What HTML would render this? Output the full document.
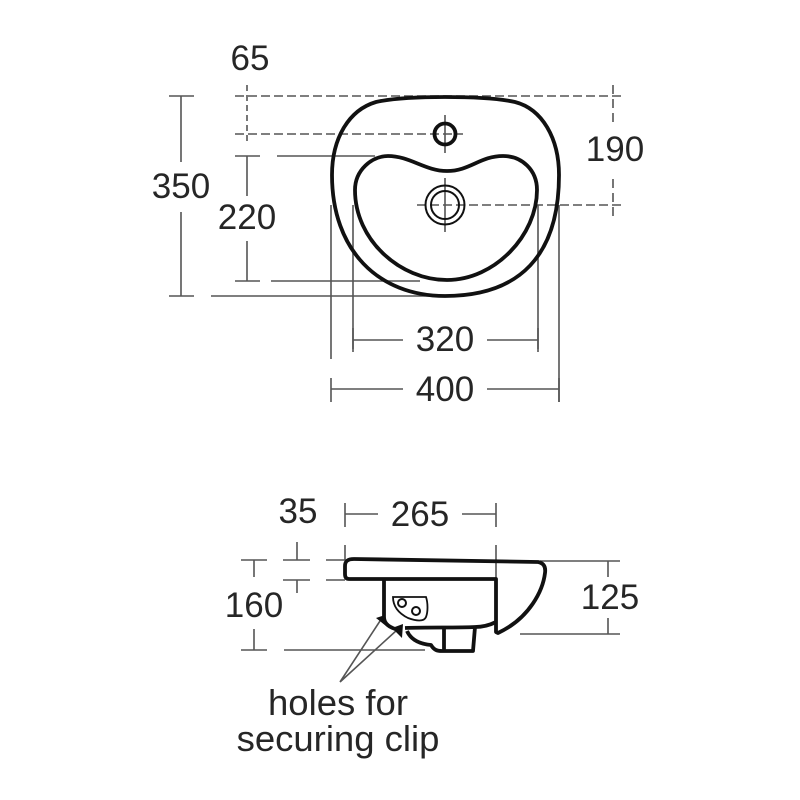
<!DOCTYPE html>
<html><head><meta charset="utf-8"><style>html,body{margin:0;padding:0;background:#fff}svg{display:block}text{font-family:"Liberation Sans",sans-serif;font-size:35px;fill:#262626;text-anchor:middle}</style></head><body>
<svg width="800" height="800" viewBox="0 0 800 800" xmlns="http://www.w3.org/2000/svg">
<g fill="none" stroke="#555" stroke-width="1.6">
<path d="M169 96H194M181 96V162M181 212V296M169 296H194M211 296H445"/>
<path d="M235 156H260M247 156V196M247 241V281M235 281H260M271 281H420M277 156H375"/>
<path d="M331 205V359M353 205V349M538 205V349M559 205V402"/>
<path d="M353 340H403M487 340H538M331 389H403M487 389H559M331 378V402M353 328V352M538 328V352M559 378V402"/>
<path d="M345 503V527M496 503V527M345 514H378M462 514H496M345 545V560M496 545V580"/>
<path d="M241 560H267M254 560V577M254 629V650M241 650H267M284 650H425"/>
<path d="M297 542V560M283 560H310M283 580H310M297 580V593M326 560H345M326 580H345M540 561H620M608 561V577M608 618V634M520 634H620"/>
<path d="M340 682L380 621M340 682L397 630"/>
<path d="M445 115V153M445 178V232"/>
</g>
<g fill="none" stroke="#555" stroke-width="1.6" stroke-dasharray="9 4">
<path d="M235 96H625M235 134H463M417 205H625"/>
<path d="M247 85V145" stroke-dasharray="6 4"/>
<path d="M613 85V122M613 179V216" stroke-dasharray="9 5"/>
</g>
<g fill="none" stroke="#111" stroke-width="3.8" stroke-linejoin="round">
<path d="M445 97C470 97 497 98 515 102C542 109 559 138 559 175C559 255 520 296 445 296C378 296 332 250 332 175C332 138 349 110 376 102C394 98 420 97 445 97Z"/>
<path d="M388 156C372 156 355 170 355 190C355 240 400 280 447 280C495 280 537 235 537 190C537 170 522 156 503 156C480 156 470 171 447 171C425 171 410 156 388 156Z"/>
<circle cx="445" cy="134" r="10.5"/>
<path d="M345 566C345 561 348 559 354 559L538 562C543 563 546 566 545 573C543 590 530 618 498 633L496 632V579L349 579C346 579 345 577 345 574Z"/>
<path d="M384 580V617C384 624 390 628 399 630"/>
<path d="M405 628C430 627 455 628 475 627C484 627 490 625 496 622"/>
<path d="M407 631C411 640 420 644 431 645C434 650 437 651 442 651L473 651L475 627"/>
<path d="M444 628V650"/>
</g>
<g fill="none" stroke="#111" stroke-width="2">
<circle cx="445" cy="205" r="19.5"/><circle cx="445" cy="205" r="14"/>
<path d="M393 597H426C428 603 428 612 426 617C424 622 416 621 408 618C400 614 393 608 393 597Z" stroke-width="1.8"/>
<circle cx="402" cy="603" r="4"/><circle cx="416" cy="611" r="4"/>
</g>
<path d="M376 618L385 615L386 626Z M392 628L403 624L402 638Z" fill="#111"/>
<text x="250" y="70">65</text>
<text x="181" y="198">350</text>
<text x="247" y="229">220</text>
<text x="615" y="161">190</text>
<text x="445" y="351">320</text>
<text x="445" y="401">400</text>
<text x="298" y="523">35</text>
<text x="420" y="526">265</text>
<text x="254" y="617">160</text>
<text x="610" y="609">125</text>
<text x="338" y="715" style="font-size:36.5px">holes for</text>
<text x="338" y="751" style="font-size:36.5px">securing clip</text>
</svg></body></html>
